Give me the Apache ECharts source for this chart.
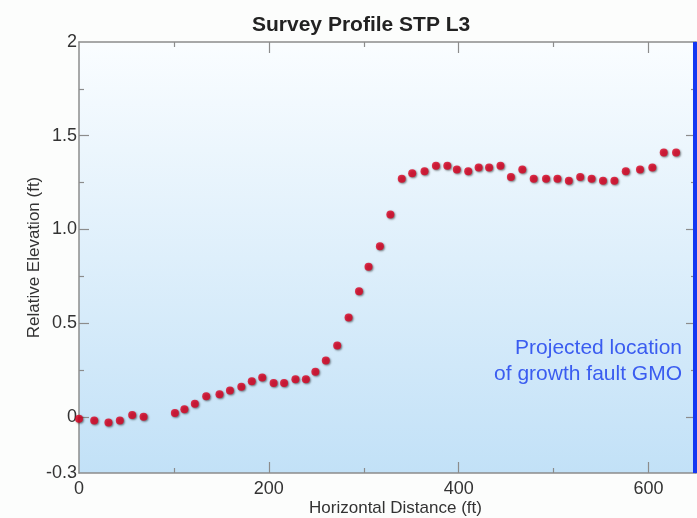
<!DOCTYPE html>
<html>
<head>
<meta charset="utf-8">
<script src="https://cdn.jsdelivr.net/npm/echarts@6/dist/echarts.min.js"></script>
<style>
html,body{margin:0;padding:0;background:#fcfdfc;}
#chart{width:697px;height:518px;}
</style>
</head>
<body>
<div id="chart"></div>
<script>
// ---- data ----
const distances = [0,16,31,43,56,68,101,111,122,134,148,159,171,182,193,205,216,228,239,249,260,272,284,295,305,317,328,340,351,364,376,388,398,410,421,432,444,455,467,479,492,504,516,528,540,552,564,576,591,604,616,629];
const elevations = [-0.01,-0.02,-0.03,-0.02,0.01,0.0,0.02,0.04,0.07,0.11,0.12,0.14,0.16,0.19,0.21,0.18,0.18,0.20,0.20,0.24,0.30,0.38,0.53,0.67,0.80,0.91,1.08,1.27,1.30,1.31,1.34,1.34,1.32,1.31,1.33,1.33,1.34,1.28,1.32,1.27,1.27,1.27,1.26,1.28,1.27,1.26,1.26,1.31,1.32,1.33,1.41,1.41];
const xMin = 0, xMax = 650;
const yMin = -0.3, yMax = 2;
const xLabelValues = [0,200,400,600];
const xMajorTicks = [200,400,600];
const xMinorTicks = [100,300,500];
const yLabelValues = [-0.3,0,0.5,1,1.5,2];
const yMajorTicks = [0,0.5,1,1.5];
const yMinorTicks = [0.25,0.75,1.25,1.75];
const faultX = 650;
const titleText = 'Survey Profile STP L3';
const xName = 'Horizontal Distance (ft)';
const yName = 'Relative Elevation (ft)';
const noteText = 'Projected location\nof growth fault GMO';

const FONT = '"Liberation Sans", Arial, Helvetica, sans-serif';
const axisGrey = '#8c8c8c';

function xAxisDef(pos, ticks, len, withLabels, withLine) {
  return {
    type: 'value', position: pos, min: xMin, max: xMax,
    axisLine: {show: withLine, onZero: false, lineStyle: {color: axisGrey, width: 1.5}},
    axisTick: {show: true, inside: true, length: len, customValues: ticks, lineStyle: {color: axisGrey, width: 1.2}},
    axisLabel: withLabels ? {show: true, customValues: xLabelValues, fontSize: 18, color: '#333', fontFamily: FONT, margin: 7} : {show: false},
    splitLine: {show: false}
  };
}
function yAxisDef(pos, ticks, len, withLabels, withLine) {
  return {
    type: 'value', position: pos, min: yMin, max: yMax,
    axisLine: {show: withLine, onZero: false, lineStyle: {color: axisGrey, width: 1.5}},
    axisTick: {show: true, inside: true, length: len, customValues: ticks, lineStyle: {color: axisGrey, width: 1.2}},
    axisLabel: withLabels ? {
      show: true, customValues: yLabelValues, fontSize: 18, color: '#333', fontFamily: FONT, margin: 2,
      formatter: function (v) { return (v === 0 || v === 2) ? String(v) : v.toFixed(1); }
    } : {show: false},
    splitLine: {show: false}
  };
}

const xAxes = [
  xAxisDef('bottom', xMajorTicks, 11, true, true),
  xAxisDef('bottom', xMinorTicks, 5, false, false),
  xAxisDef('top', xMajorTicks, 11, false, true),
  xAxisDef('top', xMinorTicks, 5, false, false)
];
xAxes[0].name = xName;
xAxes[0].nameLocation = 'middle';
xAxes[0].nameGap = 27;
xAxes[0].nameMoveOverlap = false;
xAxes[0].nameTextStyle = {fontSize: 17, color: '#333', fontFamily: FONT, padding: [0, 0, 0, 16]};

const yAxes = [
  yAxisDef('left', yMajorTicks, 10, true, true),
  yAxisDef('left', yMinorTicks, 5, false, false),
  yAxisDef('right', yMajorTicks, 10, false, true),
  yAxisDef('right', yMinorTicks, 5, false, false)
];
yAxes[0].name = yName;
yAxes[0].nameLocation = 'middle';
yAxes[0].nameGap = 36;
yAxes[0].nameMoveOverlap = false;
yAxes[0].nameTextStyle = {fontSize: 17, color: '#333', fontFamily: FONT};

const points = distances.map((d, i) => [d, elevations[i]]);

const chart = echarts.init(document.getElementById('chart'), null, {renderer: 'canvas'});
chart.setOption({
  backgroundColor: '#fcfdfc',
  animation: false,
  title: {
    text: titleText, left: 247, top: 10,
    textStyle: {fontSize: 21, fontWeight: 'bold', color: '#222', fontFamily: FONT}
  },
  grid: {
    left: 79, right: 1, top: 42, bottom: 45, show: true, borderWidth: 0,
    outerBoundsMode: 'none', containLabel: false,
    backgroundColor: new echarts.graphic.LinearGradient(0, 0, 0, 1, [
      {offset: 0, color: '#fafdff'},
      {offset: 1, color: '#c2e1f7'}
    ])
  },
  xAxis: xAxes,
  yAxis: yAxes,
  series: [{
    type: 'scatter',
    xAxisIndex: 0, yAxisIndex: 0,
    data: points,
    symbol: 'circle',
    symbolSize: 8,
    itemStyle: {
      color: '#dc0020',
      shadowBlur: 2, shadowColor: 'rgba(0,0,0,0.6)', shadowOffsetX: 1, shadowOffsetY: 1
    },
    markLine: {
      silent: true, symbol: 'none',
      label: {show: false},
      lineStyle: {color: '#1538f2', width: 7, type: 'solid'},
      data: [{xAxis: faultX}]
    }
  }],
  graphic: [{
    type: 'text',
    style: {
      text: noteText, x: 682, y: 361, align: 'right', verticalAlign: 'middle',
      fontSize: 21, lineHeight: 26, fontFamily: FONT, fill: '#3a5cf0'
    }
  }]
});
</script>
</body>
</html>
